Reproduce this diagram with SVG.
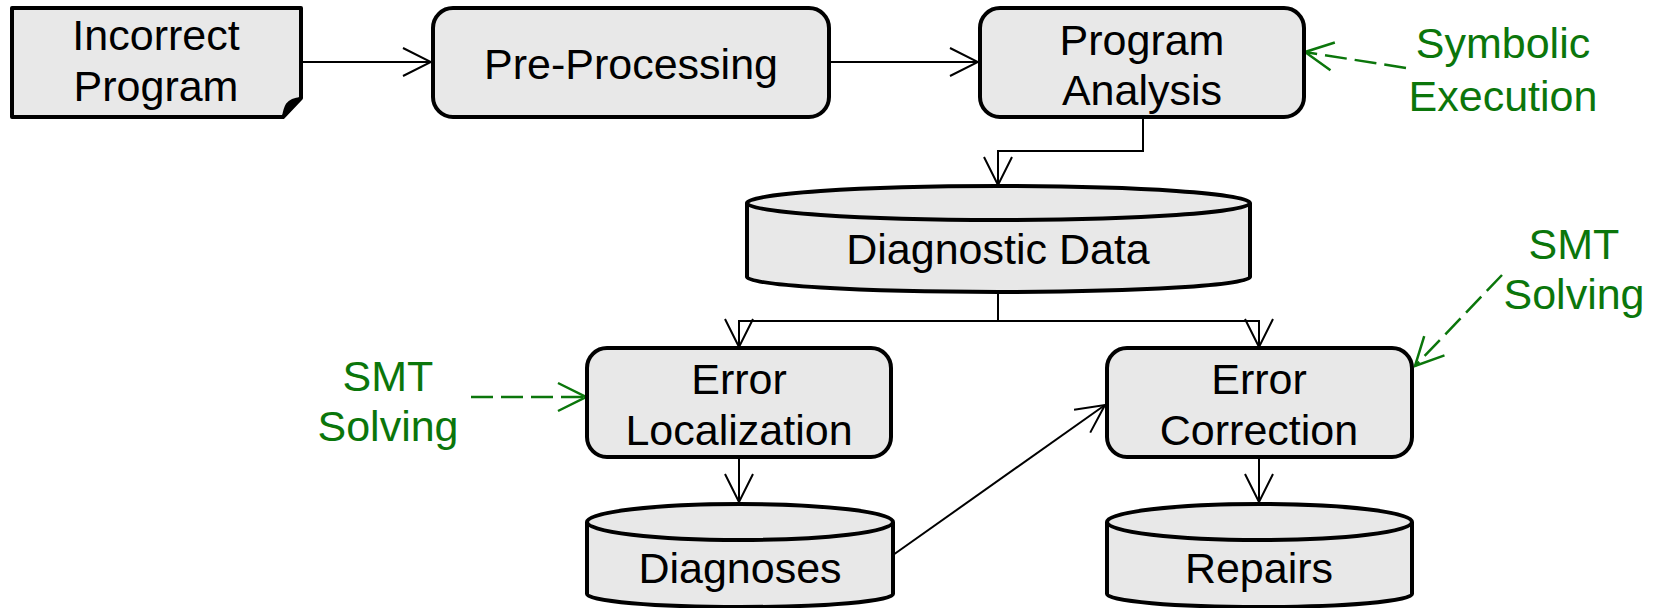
<svg xmlns="http://www.w3.org/2000/svg" width="1658" height="608" viewBox="0 0 1658 608">
  <style>
    .box { fill: #e8e8e8; stroke: #000; stroke-width: 4; stroke-linejoin: round; }
    .lbl { font-family: "Liberation Sans", Arial, sans-serif; font-size: 43px; fill: #000; text-anchor: middle; }
    .note { font-family: "Liberation Sans", Arial, sans-serif; font-size: 43px; fill: #0b760b; text-anchor: middle; }
    .edge { fill: none; stroke: #000; stroke-width: 2; }
    .dash { fill: none; stroke: #0b760b; stroke-width: 2.5; stroke-dasharray: 22 8; }
  </style>
  <defs>
    <marker id="open" markerUnits="userSpaceOnUse" viewBox="-30 -16 32 32" refX="0" refY="0" markerWidth="32" markerHeight="32" orient="auto">
      <path d="M-28,-14 L0,0 L-28,14" fill="none" stroke="#000" stroke-width="2"/>
    </marker>
    <marker id="openG" markerUnits="userSpaceOnUse" viewBox="-30 -16 32 32" refX="0" refY="0" markerWidth="32" markerHeight="32" orient="auto">
      <path d="M-28,-14 L0,0 L-28,14" fill="none" stroke="#0b760b" stroke-width="2.5"/>
    </marker>
  </defs>

  <g id="connectors">
    <path class="edge" d="M301,62 L431,62" marker-end="url(#open)"/>
    <path class="edge" d="M829,62 L978,62" marker-end="url(#open)"/>
    <path class="edge" d="M1143,117 L1143,151 L998,151 L998,185" marker-end="url(#open)"/>
    <path class="edge" d="M998,292 L998,321 L739,321 L739,347" marker-end="url(#open)"/>
    <path class="edge" d="M998,321 L1259,321 L1259,347" marker-end="url(#open)"/>
    <path class="edge" d="M739,457 L739,502" marker-end="url(#open)"/>
    <path class="edge" d="M1259,457 L1259,502" marker-end="url(#open)"/>
    <path class="edge" d="M893,555 L1105,405" marker-end="url(#open)"/>
    <path class="dash" d="M1406,68 L1305,52" marker-end="url(#openG)"/>
    <path class="dash" d="M471,397 L586,397" marker-end="url(#openG)"/>
    <path class="dash" d="M1502,275 L1415,366" marker-end="url(#openG)"/>
  </g>

  <g id="incorrect-program">
    <path class="box" d="M12,8 L301,8 L301,98 L283,117 L12,117 Z"/>
    <path d="M283,117 L301,98 Q291,99 287,104 Q284,109 283,117 Z" fill="#000" stroke="#000" stroke-width="2" stroke-linejoin="round"/>
    <text class="lbl" x="156" y="50">Incorrect</text>
    <text class="lbl" x="156" y="101">Program</text>
  </g>

  <g id="pre-processing">
    <rect class="box" x="433" y="8" width="396" height="109" rx="20"/>
    <text class="lbl" x="631" y="79">Pre-Processing</text>
  </g>

  <g id="program-analysis">
    <rect class="box" x="980" y="8" width="324" height="109" rx="20"/>
    <text class="lbl" x="1142" y="55">Program</text>
    <text class="lbl" x="1142" y="105">Analysis</text>
  </g>

  <g id="symbolic-execution">
    <text class="note" x="1503" y="58">Symbolic</text>
    <text class="note" x="1503" y="111">Execution</text>
  </g>

  <g id="diagnostic-data">
    <path class="box" d="M747,203 A251.5,17 0 0 1 1250,203 L1250,277 A251.5,15 0 0 1 747,277 Z"/>
    <path class="box" d="M747,203 A251.5,17 0 0 0 1250,203" fill="none"/>
    <text class="lbl" x="998" y="264">Diagnostic Data</text>
  </g>

  <g id="error-localization">
    <rect class="box" x="587" y="348" width="304" height="109" rx="20"/>
    <text class="lbl" x="739" y="394">Error</text>
    <text class="lbl" x="739" y="445">Localization</text>
  </g>

  <g id="error-correction">
    <rect class="box" x="1107" y="348" width="305" height="109" rx="20"/>
    <text class="lbl" x="1259" y="394">Error</text>
    <text class="lbl" x="1259" y="445">Correction</text>
  </g>

  <g id="smt-solving-left">
    <text class="note" x="388" y="391">SMT</text>
    <text class="note" x="388" y="441">Solving</text>
  </g>

  <g id="smt-solving-right">
    <text class="note" x="1574" y="259">SMT</text>
    <text class="note" x="1574" y="309">Solving</text>
  </g>

  <g id="diagnoses">
    <path class="box" d="M587,522 A153,18 0 0 1 893,522 L893,594 A153,13 0 0 1 587,594 Z"/>
    <path class="box" d="M587,522 A153,18 0 0 0 893,522" fill="none"/>
    <text class="lbl" x="740" y="583">Diagnoses</text>
  </g>

  <g id="repairs">
    <path class="box" d="M1107,522 A152.5,18 0 0 1 1412,522 L1412,594 A152.5,13 0 0 1 1107,594 Z"/>
    <path class="box" d="M1107,522 A152.5,18 0 0 0 1412,522" fill="none"/>
    <text class="lbl" x="1259" y="583">Repairs</text>
  </g>
</svg>
